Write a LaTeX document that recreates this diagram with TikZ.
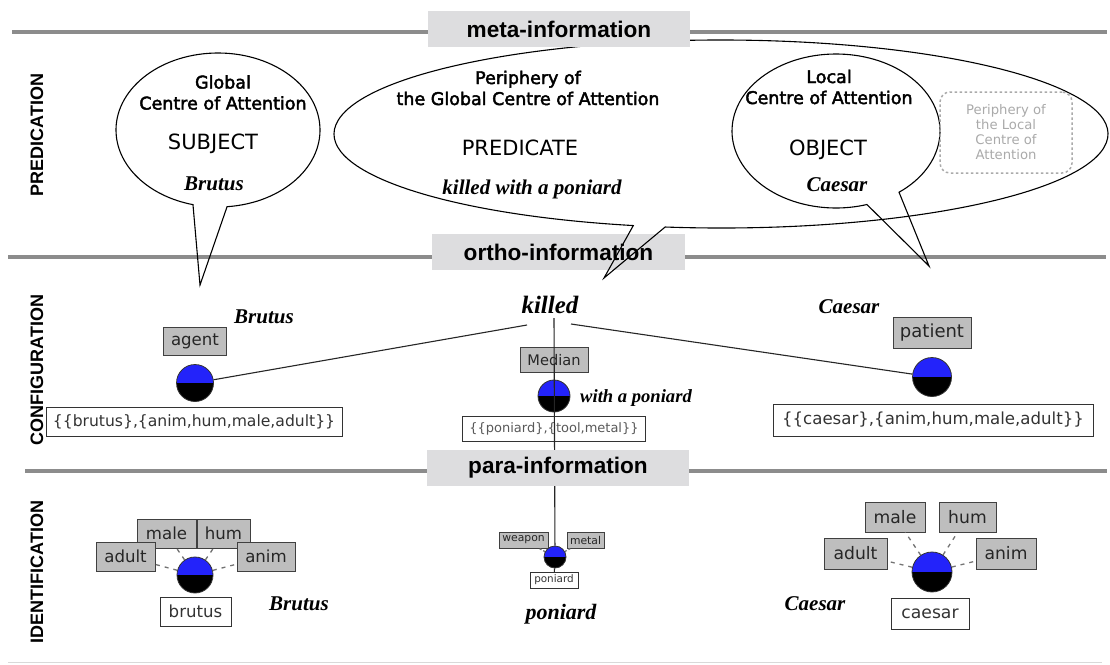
\documentclass[tikz,border=0pt]{standalone}
\usepackage{fontspec}
\usepackage{tikz}
\usetikzlibrary{calc,backgrounds}
\setmainfont{Liberation Serif}
\newfontfamily\boxfont{DejaVu Sans}
\newfontfamily\capfont[FakeBold=2.5]{DejaVu Sans}
\newfontfamily\bandfont{Liberation Sans}
\definecolor{bandgray}{RGB}{221,221,223}
\definecolor{linegray}{RGB}{140,140,140}
\definecolor{taggray}{RGB}{190,190,190}
\definecolor{ballblue}{RGB}{35,35,250}
\definecolor{fadetext}{RGB}{170,170,170}

\begin{document}
\begin{tikzpicture}[x=1pt,y=-1pt,
  band/.style={fill=bandgray, minimum width=262pt, minimum height=36pt, inner sep=0pt,
    font=\bandfont\bfseries\fontsize{22.6}{26}\selectfont},
  side/.style={rotate=90, font=\bandfont\bfseries\fontsize{18}{20}\selectfont},
  rule/.style={linegray, line width=3.5pt},
  bubble/.style={draw=black, line width=1.1pt},
  btext/.style={font=\capfont\fontsize{17.5}{21}\selectfont, align=center},
  role/.style={font=\boxfont\fontsize{21}{23}\selectfont},
  word/.style={font=\bfseries\itshape\fontsize{21}{23}\selectfont},
  tag/.style={draw=black!75, fill=taggray, inner sep=0pt, text=black!85,
    font=\boxfont\fontsize{16.6}{18}\selectfont},
  feat/.style={draw=black!80, fill=white, inner sep=0pt, text=black!80,
    font=\boxfont\fontsize{15.6}{18}\selectfont},
  ball/.style={circle, draw=black!80, line width=0.8pt, inner sep=0pt, path picture={
      \fill[ballblue] (path picture bounding box.north west) rectangle (path picture bounding box.east);
      \fill[black] (path picture bounding box.west) rectangle (path picture bounding box.south east);}},
  tick/.style={black!55, line width=1.3pt, dash pattern=on 4pt off 5pt},
  link/.style={black!85, line width=1.1pt}
]
\useasboundingbox (0,0) rectangle (1110,664);
\fill[white] (0,0) rectangle (1110,664);

% level rules
\draw[rule] (12,32) -- (1107,32);
\draw[rule] (8,257) -- (1106,257);
\draw[rule] (25,471) -- (1107,471);
\draw[black!15, line width=1pt] (8,662) -- (1102,662);

\node[side] (pred) at (37,135) {PREDICATION};
\node[side] (conf) at (37,370) {CONFIGURATION};
\node[side] (ident) at (37,572) {IDENTIFICATION};

\node[band, minimum width=253pt] (ortho) at (558.5,252) {ortho-information};

% predication bubbles
\fill[white] (721,134) ellipse [x radius=387, y radius=94];
\draw[bubble] ($(721,134)+(98.3:387 and 94)$) arc[start angle=98.3, end angle=-256.9, x radius=387, y radius=94] -- (604,278) -- cycle;
\fill[white] (218,130) ellipse [x radius=102, y radius=77];
\draw[bubble] ($(218,130)+(84.9:102 and 77)$) arc[start angle=84.9, end angle=-255.8, x radius=102, y radius=77] -- (200,285) -- cycle;
\fill[white] (836,131) ellipse [x radius=104, y radius=77];
\draw[bubble] ($(836,131)+(52.7:104 and 77)$) arc[start angle=52.7, end angle=-287.3, x radius=104, y radius=77] -- (929,266) -- cycle;

\node[btext] (glob) at (223,92.5) {Global\\Centre of Attention};
\node[role] (subj) at (213,144) {SUBJECT};
\node[word] (sbrut) at (214,184) {Brutus};

\node[btext] (gper) at (528,88) {Periphery of\\the Global Centre of Attention};
\node[role] (predi) at (520,148) {PREDICATE};
\node[word] (pkill) at (532,189) {killed with a poniard};

\node[btext] (loc) at (829,87) {Local\\Centre of Attention};
\node[role] (obj) at (828,150) {OBJECT};
\node[word] (ocaes) at (837,185) {Caesar};

\node[draw=fadetext, line width=1.5pt, dash pattern=on 2.5pt off 2.5pt, rounded corners=10pt,
  minimum width=132pt, minimum height=81pt, text=fadetext, align=center,
  font=\boxfont\fontsize{13.2}{15}\selectfont] (lper) at (1006,132.5) {Periphery of\\the Local\\Centre of\\Attention};

\node[band] (meta) at (559,29) {meta-information};

% configuration
\node[word, font=\bfseries\itshape\fontsize{25}{28}\selectfont] (kill) at (550,305) {killed};
\coordinate (kl) at (527,325);
\coordinate (kr) at (571,324);
\coordinate (kb) at (554,318);
\node[word] (cbrut) at (264,317) {Brutus};
\node[word] (ccaes) at (849,307) {Caesar};
\node[word, font=\bfseries\itshape\fontsize{18.6}{21}\selectfont] (wpon) at (636,398) {with a poniard};

\node[tag, minimum width=63pt, minimum height=28pt] (agent) at (195,341) {agent};
\node[ball, minimum size=37pt] (ab) at (195,383) {};
\node[feat, minimum width=296pt, minimum height=29pt] (bfeat) at (194,422) {\{\{brutus\},\{anim,hum,male,adult\}\}};

\node[tag, font=\boxfont\fontsize{14.6}{16}\selectfont, minimum width=68pt, minimum height=25pt] (median) at (554,360) {Median};
\node[ball, minimum size=32pt] (mb) at (554,396) {};
\node[feat, font=\boxfont\fontsize{13}{15}\selectfont, text=black!65, minimum width=183pt, minimum height=25pt] (pfeat) at (554,429) {\{\{poniard\},\{tool,metal\}\}};

\node[tag, font=\boxfont\fontsize{18}{20}\selectfont, minimum width=78pt, minimum height=31pt] (patient) at (932,333) {patient};
\node[ball, minimum size=39pt] (pb) at (932,377) {};
\node[feat, font=\boxfont\fontsize{16.6}{18}\selectfont, minimum width=320pt, minimum height=32pt] (cfeat) at (933,420) {\{\{caesar\},\{anim,hum,male,adult\}\}};

% identification
\node[ball, minimum size=36pt] (bid) at (195,575) {};
\node[tag, minimum width=59pt, minimum height=29pt] (bmale) at (166.5,533.5) {male};
\node[tag, minimum width=53pt, minimum height=29pt] (bhum) at (223.5,533.5) {hum};
\node[tag, minimum width=59pt, minimum height=29pt] (badult) at (125.5,556.5) {adult};
\node[tag, minimum width=58pt, minimum height=29pt] (banim) at (266,556.5) {anim};
\node[feat, font=\boxfont\fontsize{16.6}{18}\selectfont, minimum width=71pt, minimum height=29pt] (bname) at (195.5,611.5) {brutus};
\node[word] (ibrut) at (299,604) {Brutus};

\node[ball, minimum size=22pt] (pid) at (555,557) {};
\node[tag, font=\boxfont\fontsize{10.8}{12}\selectfont, minimum width=49pt, minimum height=16pt] (weapon) at (523.5,540) {weapon};
\node[tag, font=\boxfont\fontsize{10.8}{12}\selectfont, minimum width=37pt, minimum height=16pt] (metal) at (585.5,540) {metal};
\node[feat, font=\boxfont\fontsize{10.4}{12}\selectfont, minimum width=48pt, minimum height=16pt] (pname) at (554,580) {poniard};
\node[word, font=\bfseries\itshape\fontsize{22}{24}\selectfont] (ipon) at (561,614) {poniard};

\node[ball, minimum size=40pt] (cid) at (932,572) {};
\node[tag, font=\boxfont\fontsize{17.2}{19}\selectfont, minimum width=60pt, minimum height=30pt] (cmale) at (895,517) {male};
\node[tag, font=\boxfont\fontsize{17.2}{19}\selectfont, minimum width=57pt, minimum height=30pt] (chum) at (967.5,517) {hum};
\node[tag, font=\boxfont\fontsize{17.2}{19}\selectfont, minimum width=63pt, minimum height=31pt] (cadult) at (855.5,553.5) {adult};
\node[tag, font=\boxfont\fontsize{17.2}{19}\selectfont, minimum width=60pt, minimum height=31pt] (canim) at (1006,553.5) {anim};
\node[feat, font=\boxfont\fontsize{17.2}{19}\selectfont, minimum width=78pt, minimum height=31pt] (cname) at (930,613.5) {caesar};
\node[word] (icaes) at (815,604) {Caesar};

% connectors
\begin{scope}[on background layer]
  \draw[link] (agent) -- (ab) -- (bfeat) -- (bid) -- (bname);
  \draw[link] (patient) -- (pb) -- (cfeat) -- (cid) -- (cname);
\end{scope}
\draw[link] (ab) -- (kl);
\draw[link] (kr) -- (pb);
\draw[link] (kb) -- (pid) -- (pname);

\foreach \b in {bmale,bhum,badult,banim}
  \draw[tick] (bid) -- (\b);
\foreach \b in {cmale,chum,cadult,canim}
  \draw[tick] (cid) -- (\b);
\foreach \b in {weapon,metal}
  \draw[tick, dash pattern=on 2pt off 2pt] (pid) -- (\b);

\node[band] (para) at (558,467.5) {para-information};
\end{tikzpicture}
\end{document}
